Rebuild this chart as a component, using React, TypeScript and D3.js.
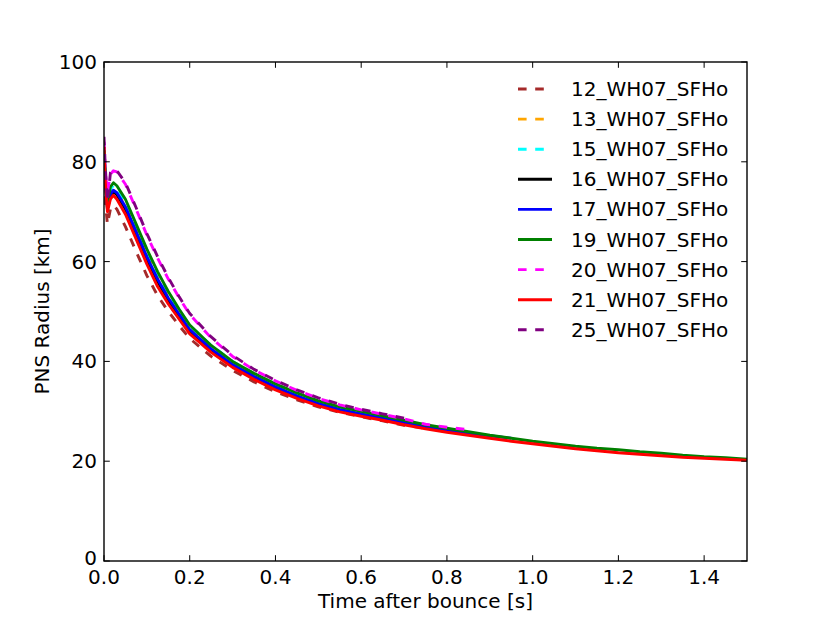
import React from 'react';
import * as d3 from 'd3';

// time after bounce [s], shared by every model
const times = [0, 0.003, 0.008, 0.015, 0.022, 0.03, 0.05, 0.075, 0.1, 0.125, 0.15, 0.175, 0.2, 0.25, 0.3, 0.35, 0.4, 0.45, 0.5, 0.55, 0.6, 0.65, 0.7, 0.75, 0.8, 0.85, 0.9, 0.95, 1.0, 1.05, 1.1, 1.15, 1.2, 1.25, 1.3, 1.35, 1.4, 1.45, 1.5];

// PNS radius [km]; shorter arrays stop where the run stops
const r12 = [80, 72, 67.5, 70.5, 71.3, 70.5, 67, 62, 57.2, 53.2, 50, 47.2, 44.6, 41.0, 38.2, 35.9, 33.9, 32.3, 30.9, 29.8, 28.9, 28.1, 27.2, 26.6];
const r13 = [83, 76.5, 71, 73.8, 74.6, 74, 71.2, 66.3, 61.3, 56.8, 53, 49.8, 46.7, 42.7, 39.6, 37.2, 35.1, 33.3, 31.8];
const r15 = [83, 77, 71.5, 74.5, 75.3, 74.8, 72, 67, 62, 57.6, 53.7, 50.3, 47.2, 43.2, 40.0, 37.5, 35.4, 33.6, 32.0, 30.8, 29.8, 29.0, 28.1];
const r16 = [83, 76, 70.5, 73, 74, 73.4, 70.5, 65.5, 60.5, 56, 52.2, 49.0, 46.0, 42.2, 39.1, 36.7, 34.6, 32.9, 31.4, 30.2, 29.3, 28.4, 27.6, 26.8, 26.1];
const r17 = [83, 76.5, 71, 73.5, 74.3, 73.8, 71, 66, 61, 56.5, 52.7, 49.5, 46.4, 42.5, 39.4, 37.0, 34.9, 33.1, 31.6, 30.4, 29.5, 28.6, 27.8, 27.0, 26.2, 25.6, 25.1, 24.6];
const r19 = [83, 77, 72, 75, 75.8, 75.2, 72.5, 67.5, 62.5, 58, 54, 50.5, 47.3, 43.2, 40.0, 37.6, 35.5, 33.7, 32.1, 30.9, 30.0, 29.1, 28.2, 27.3, 26.6, 25.9, 25.2, 24.6, 24.0, 23.5, 23.0, 22.6, 22.3, 21.9, 21.6, 21.2, 20.9, 20.7, 20.4];
const r20 = [84, 78, 74, 77.5, 78.2, 78, 75.5, 70.5, 65.3, 60.7, 56.5, 52.8, 49.4, 44.7, 41.0, 38.3, 36.1, 34.2, 32.6, 31.3, 30.3, 29.4, 28.5, 27.4, 26.8, 26.3];
const r21 = [83, 76, 70, 72.5, 73.3, 72.5, 69.5, 64.5, 59.5, 55, 51.5, 48.5, 45.5, 41.8, 38.8, 36.4, 34.3, 32.6, 31.1, 29.9, 29.0, 28.2, 27.3, 26.5, 25.8, 25.2, 24.6, 24.0, 23.5, 23.0, 22.5, 22.1, 21.7, 21.4, 21.1, 20.8, 20.6, 20.4, 20.2];
const r25 = [85, 79, 72, 77.8, 78.5, 78.2, 75.8, 70.8, 65.6, 61, 56.8, 53, 49.6, 44.9, 41.2, 38.4, 36.2, 34.3, 32.7, 31.4, 30.4, 29.5, 28.6];

const names = ['12_WH07_SFHo', '13_WH07_SFHo', '15_WH07_SFHo', '16_WH07_SFHo', '17_WH07_SFHo', '19_WH07_SFHo', '20_WH07_SFHo', '21_WH07_SFHo', '25_WH07_SFHo'];
const radii = [r12, r13, r15, r16, r17, r19, r20, r21, r25];
const colors = ['#a52a2a', '#ffa500', '#00ffff', '#000000', '#0000ff', '#008000', '#ff00ff', '#ff0000', '#800080'];
const dashed = [true, true, true, false, false, false, true, false, true];

const xTicks = [0, 0.2, 0.4, 0.6, 0.8, 1.0, 1.2, 1.4];
const yTicks = [0, 20, 40, 60, 80, 100];

const W = 830;
const H = 623;
const margin = { top: 62, right: 83, bottom: 62, left: 104 };
const font = 'DejaVu Sans, sans-serif';
const fs = 20;

const App = () => {
  const x = d3.scaleLinear().domain([0, 1.5]).range([margin.left, W - margin.right]);
  const y = d3.scaleLinear().domain([0, 100]).range([H - margin.bottom, margin.top]);

  const line = d3.line<[number, number]>()
    .x(d => x(d[0]))
    .y(d => y(d[1]));

  const x0 = margin.left, x1 = W - margin.right;
  const y0 = H - margin.bottom, y1 = margin.top;
  const tick = 5.8;

  return (
    <svg width={W} height={H} style={{ position: 'absolute', left: 0, top: 0 }}>
      <defs>
        <clipPath id="plot">
          <rect x={x0} y={y1} width={x1 - x0} height={y0 - y1} />
        </clipPath>
      </defs>
      <rect width={W} height={H} fill="white" />

      {/* curves */}
      <g clipPath="url(#plot)">
        {radii.map((r, i) => (
          <path
            key={names[i]}
            d={line(r.map((v, j) => [times[j], v] as [number, number])) || ''}
            fill="none"
            stroke={colors[i]}
            strokeWidth={2.9}
            strokeDasharray={dashed[i] ? '8.6,8.6' : undefined}
            strokeLinejoin="round"
          />
        ))}
      </g>

      {/* frame */}
      <rect x={x0} y={y1} width={x1 - x0} height={y0 - y1} fill="none" stroke="black" strokeWidth={1.4} />

      {/* ticks */}
      {xTicks.map(t => (
        <g key={'x' + t}>
          <line x1={x(t)} x2={x(t)} y1={y0} y2={y0 - tick} stroke="black" strokeWidth={1} />
          <line x1={x(t)} x2={x(t)} y1={y1} y2={y1 + tick} stroke="black" strokeWidth={1} />
          <text x={x(t)} y={y0 + 23} textAnchor="middle" fontFamily={font} fontSize={fs}>{t.toFixed(1)}</text>
        </g>
      ))}
      {yTicks.map(t => (
        <g key={'y' + t}>
          <line x1={x0} x2={x0 + tick} y1={y(t)} y2={y(t)} stroke="black" strokeWidth={1} />
          <line x1={x1} x2={x1 - tick} y1={y(t)} y2={y(t)} stroke="black" strokeWidth={1} />
          <text x={x0 - 7} y={t === 0 ? y(t) - 3 : y(t)} dy="0.35em" textAnchor="end" fontFamily={font} fontSize={fs}>{t}</text>
        </g>
      ))}

      {/* axis labels */}
      <text x={(x0 + x1) / 2} y={608} textAnchor="middle" fontFamily={font} fontSize={fs}>Time after bounce [s]</text>
      <text transform={`translate(49, ${(y0 + y1) / 2}) rotate(-90)`} textAnchor="middle" fontFamily={font} fontSize={fs}>PNS Radius [km]</text>

      {/* legend */}
      {names.map((n, i) => {
        const ly = 89 + i * 30.1;
        return (
          <g key={'l' + n}>
            <line x1={518} x2={552} y1={ly} y2={ly} stroke={colors[i]} strokeWidth={2.9}
              strokeDasharray={dashed[i] ? '8.6,8.6' : undefined} />
            <text x={571} y={ly} dy="0.35em" fontFamily={font} fontSize={fs}>{n}</text>
          </g>
        );
      })}
    </svg>
  );
};

export default App;
